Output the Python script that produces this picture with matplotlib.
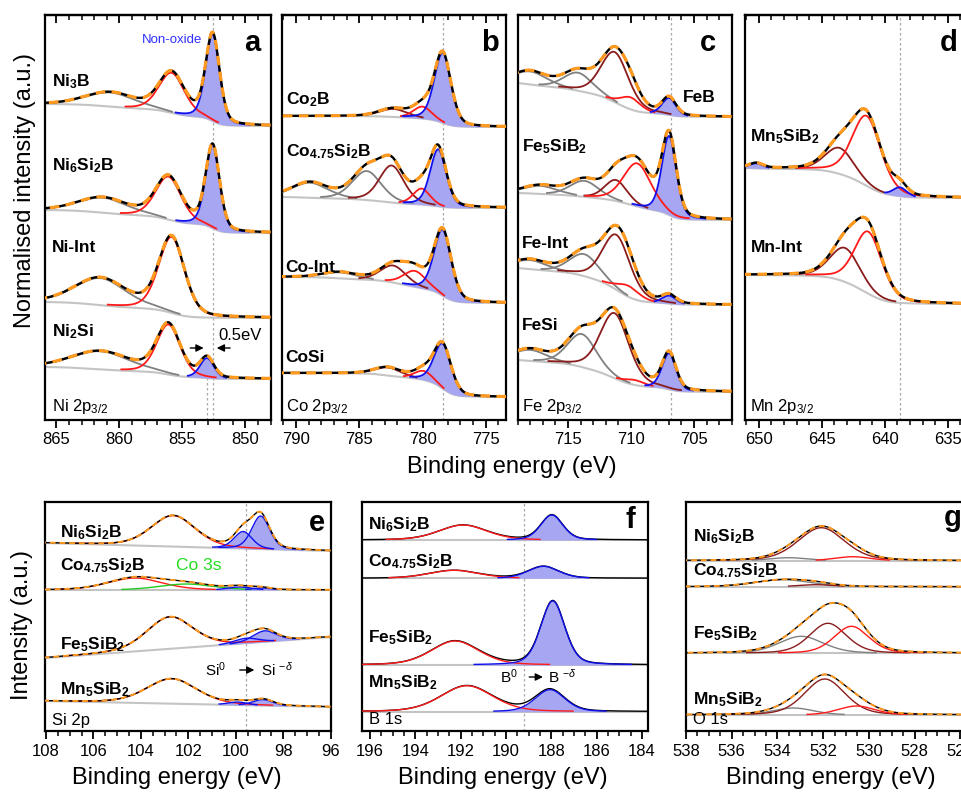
import numpy as np
import matplotlib
matplotlib.use("Agg")
import matplotlib.pyplot as plt
from matplotlib.ticker import MultipleLocator

plt.rcParams['font.family'] = ['Liberation Sans', 'DejaVu Sans']
plt.rcParams['mathtext.fontset'] = 'custom'
plt.rcParams['mathtext.rm'] = 'Liberation Sans'
plt.rcParams['mathtext.it'] = 'Liberation Sans:italic'
plt.rcParams['mathtext.bf'] = 'Liberation Sans:bold'

# ---------------- DATA (intensities in arbitrary units, stacked) ----------------
# peak tuples: (binding energy eV, height, FWHM eV, component type)
# --- a: Ni 2p3/2
NI_LABELS = [r"Ni$_{\mathbf{3}}$B", r"Ni$_{\mathbf{6}}$Si$_{\mathbf{2}}$B", "Ni-Int", r"Ni$_{\mathbf{2}}$Si"]
NI_BG_LEFT = [316, 210, 118, 53]
NI_BG_RIGHT = [294, 187, 102, 41]
NI_PEAKS = [
    [(860.7, 14, 4.6, "sat"), (855.85, 40, 2.4, "red"), (852.6, 87, 1.3, "blue")],
    [(861.3, 15, 4.6, "sat"), (856.1, 43, 2.4, "red"), (852.6, 83, 1.3, "blue")],
    [(861.5, 27, 4.8, "sat"), (855.85, 76, 2.4, "red")],
    [(861.5, 18, 5.4, "sat"), (856.1, 50, 2.2, "red"), (853.05, 20, 1.3, "blue")],
]
# --- b: Co 2p3/2
CO_LABELS = [r"Co$_{\mathbf{2}}$B", r"Co$_{\mathbf{4.75}}$Si$_{\mathbf{2}}$B", "Co-Int", "CoSi"]
CO_BG_LEFT = [304, 223, 143, 47]
CO_BG_RIGHT = [293, 212, 117, 23]
CO_PEAKS = [
    [(782.3, 8, 2.6, "maroon"), (780.0, 12, 1.7, "red"), (778.4, 70, 1.55, "blue")],
    [(788.9, 15, 3.4, "sat"), (784.4, 29, 2.7, "sat"), (782.44, 37, 2.3, "maroon"),
     (780.07, 16, 1.6, "red"), (778.76, 57, 1.5, "blue")],
    [(786.5, 6, 3.2, "sat"), (782.3, 17, 2.4, "maroon"), (780.6, 16, 2.1, "red"), (778.4, 66, 1.6, "blue")],
    [(782.7, 8, 2.5, "maroon"), (779.9, 9, 1.7, "red"), (778.4, 45, 1.6, "blue")],
]
# --- c: Fe 2p3/2
FE_LABELS = ["FeB", r"Fe$_{\mathbf{5}}$SiB$_{\mathbf{2}}$", "Fe-Int", "FeSi"]
FE_BG_LEFT = [337, 227, 152, 60]
FE_BG_RIGHT = [303, 200, 115, 28]
FE_PEAKS = [
    [(718.0, 13, 3.2, "sat"), (714.2, 18, 2.7, "sat"), (711.28, 50, 2.6, "maroon"),
     (710.03, 12, 1.9, "red"), (706.97, 17, 1.3, "blue")],
    [(717.2, 8, 3.2, "sat"), (713.7, 16, 2.7, "sat"), (711.2, 21, 2.1, "maroon"),
     (709.5, 43, 2.6, "red"), (706.97, 79, 1.35, "blue")],
    [(718.0, 9, 3.2, "sat"), (713.7, 22, 2.8, "sat"), (711.15, 55, 2.6, "maroon"),
     (710.2, 11, 2.1, "red"), (706.97, 8, 1.3, "blue")],
    [(718.0, 11, 3.2, "sat"), (713.9, 33, 2.7, "sat"), (711.3, 65, 2.7, "maroon"),
     (709.7, 5, 1.9, "red"), (706.97, 36, 1.3, "blue")],
]
# --- d: Mn 2p3/2
MN_LABELS = [r"Mn$_{\mathbf{5}}$SiB$_{\mathbf{2}}$", "Mn-Int"]
MN_BG_LEFT = [252, 145]
MN_BG_RIGHT = [222, 116]
MN_PEAKS = [
    [(650.2, 5, 1.3, "blue"), (643.6, 26, 2.7, "maroon"), (641.44, 70, 2.7, "red"), (638.8, 9, 1.3, "blue")],
    [(643.16, 34, 2.8, "maroon"), (641.3, 62, 2.6, "red")],
]
# --- e: Si 2p
SI_LABELS = [r"Ni$_{\mathbf{6}}$Si$_{\mathbf{2}}$B", r"Co$_{\mathbf{4.75}}$Si$_{\mathbf{2}}$B",
             r"Fe$_{\mathbf{5}}$SiB$_{\mathbf{2}}$", r"Mn$_{\mathbf{5}}$SiB$_{\mathbf{2}}$"]
SI_BG_LEFT = [188, 141, 73, 30]
SI_BG_RIGHT = [180, 141, 94, 24]
SI_PEAKS = [
    [(102.64, 31, 2.2, "red"), (99.69, 17, 0.9, "blue"), (98.95, 33, 0.9, "blue")],
    [(104.25, 12, 2.7, "red"), (102.08, 6, 2.7, "green"), (99.83, 3, 1.2, "blue"), (98.9, 2, 1.0, "blue")],
    [(102.78, 32, 2.3, "red"), (99.55, 5, 1.2, "blue"), (98.78, 11, 1.2, "blue")],
    [(102.7, 25, 2.5, "red"), (99.9, 3, 1.0, "blue"), (98.85, 6, 1.0, "blue")],
]
# --- f: B 1s
B_LABELS = SI_LABELS
B_BG_LEFT = [191, 152.7, 66, 19.3]
B_BG_RIGHT = [191, 152.7, 66, 19.3]
B_PEAKS = [
    [(191.9, 15, 2.5, "red"), (187.98, 25, 1.15, "blue")],
    [(192.3, 8, 2.6, "red"), (188.35, 12, 1.6, "blue")],
    [(192.25, 24, 2.5, "red"), (187.94, 64, 1.25, "blue")],
    [(191.73, 26, 2.7, "red"), (188.06, 22, 1.55, "blue")],
]
# --- g: O 1s
O_LABELS = SI_LABELS
O_BG_LEFT = [170.3, 144.3, 77.7, 16]
O_BG_RIGHT = [170.3, 144.3, 77.7, 16]
O_PEAKS = [
    [(533.5, 3, 2.0, "sat"), (532.08, 33, 2.4, "maroon"), (530.7, 4, 1.8, "red")],
    [(533.76, 7, 2.9, "sat"), (532.3, 2, 1.8, "maroon")],
    [(532.96, 17, 2.3, "sat"), (531.79, 30, 1.9, "maroon"), (530.76, 27, 1.8, "red")],
    [(533.3, 7, 2.1, "sat"), (531.93, 36, 2.1, "maroon"), (530.54, 9, 1.9, "red")],
]
CORE_LEVELS = [r"Ni 2p$_{3/2}$", r"Co 2p$_{3/2}$", r"Fe 2p$_{3/2}$", r"Mn 2p$_{3/2}$", "Si 2p", "B 1s", "O 1s"]
REF_LINES = {"a": 852.55, "b": 778.4, "c": 706.86, "d": 638.8, "e": 99.58, "f": 189.2}

# ---------------- STYLE ----------------
COLORS = {"sat": "#808080", "red": "#ff1a1a", "maroon": "#8b1c1c", "blue": "#1010ee", "green": "#22cc22"}
FILL = "#a6a6f2"
ORANGE = "#ff9a1f"
BGCOL = "#c4c4c4"
ETA = 0.3  # Lorentzian fraction of the pseudo-Voigt line shape

W, H = 962, 792
fig = plt.figure(figsize=(W / 100, H / 100), dpi=100)


def axes_px(left, top, right, bottom):
    return fig.add_axes([left / W, 1 - bottom / H, (right - left) / W, (bottom - top) / H])


def pvoigt(x, c, h, w):
    s = w / 2.3548
    g = np.exp(-0.5 * ((x - c) / s) ** 2)
    lz = 1.0 / (1.0 + ((x - c) / (w / 2)) ** 2)
    return h * ((1 - ETA) * g + ETA * lz)


def draw_panel(ax, xlim, bg_left, bg_right, peaks, shirley, top_row, fit=True, comps_on_top=False):
    x = np.linspace(min(xlim), max(xlim), 900)
    lw_data = 1.7 if top_row else 1.0
    lw_fit = 2.3 if top_row else 1.4
    lw_c = 1.3 if top_row else 1.0
    thr = 1.2 if top_row else 0.6
    zc = 4.5 if comps_on_top else 3
    for bl, br, pk in zip(bg_left, bg_right, peaks):
        comps = [pvoigt(x, c, h, w) for (c, h, w, k) in pk]
        total = np.sum(comps, axis=0)
        if shirley:
            cum = np.cumsum(total)
            frac = cum / cum[-1]
        else:
            frac = (x - x[0]) / (x[-1] - x[0])
        bg = br + (bl - br) * frac
        ax.plot(x, bg, color=BGCOL, lw=1.5, zorder=2)
        for comp, (c, h, w, k) in zip(comps, pk):
            show = comp > thr
            yv = np.where(show, bg + comp, np.nan)
            if k == "blue":
                ax.fill_between(x, bg, bg + comp, where=show, color=FILL, lw=0, zorder=2.5)
            ax.plot(x, yv, color=COLORS[k], lw=lw_c, zorder=zc)
        ax.plot(x, bg + total, color="black", lw=lw_data, zorder=4)
        if fit:
            ax.plot(x, bg + total, color=ORANGE, lw=lw_fit, ls=(0, (3, 2)), zorder=5)


def style(ax, xlim, ylim, major, minor, top_ticks, letter, lx, ly):
    ax.set_xlim(*xlim)
    ax.set_ylim(*ylim)
    ax.set_yticks([])
    ax.xaxis.set_major_locator(MultipleLocator(major))
    ax.xaxis.set_minor_locator(MultipleLocator(minor))
    ax.tick_params(axis="x", which="major", direction="out", length=6, width=1.3,
                   labelsize=12, pad=3)
    ax.tick_params(axis="x", which="minor", direction="out", length=3.5, width=1.1)
    for sp in ax.spines.values():
        sp.set_linewidth(1.6)
    if top_ticks:
        sec = ax.secondary_xaxis("top")
        sec.xaxis.set_major_locator(MultipleLocator(major))
        sec.xaxis.set_minor_locator(MultipleLocator(minor))
        sec.tick_params(axis="x", which="major", direction="in", length=6, width=1.3, labeltop=False)
        sec.tick_params(axis="x", which="minor", direction="in", length=3.5, width=1.1)
        sec.spines["top"].set_linewidth(1.6)
    ax.text(lx, ly, letter, transform=ax.transAxes, fontsize=21, fontweight="bold",
            ha="center", va="center")


def sample_labels(ax, labels, ys, xfrac):
    for lab, y in zip(labels, ys):
        ax.text(xfrac, y, lab, transform=ax.get_yaxis_transform(), fontsize=12.5,
                fontweight="bold", ha="left", va="center", zorder=6)


# ---------------- AXES ----------------
axa = axes_px(45, 15, 270.7, 420)
axb = axes_px(281.7, 15, 506, 420)
axc = axes_px(517.7, 15, 731.7, 420)
axd = axes_px(745, 15, 963, 420)
axe = axes_px(45, 501.7, 330.7, 731)
axf = axes_px(362.3, 501.7, 648, 731)
axg = axes_px(686, 501.7, 963, 731)

draw_panel(axa, (865.9, 848.0), NI_BG_LEFT, NI_BG_RIGHT, NI_PEAKS, True, True)
draw_panel(axb, (791.13, 773.4), CO_BG_LEFT, CO_BG_RIGHT, CO_PEAKS, True, True)
draw_panel(axc, (719.0, 702.0), FE_BG_LEFT, FE_BG_RIGHT, FE_PEAKS, True, True)
draw_panel(axd, (651.1, 633.8), MN_BG_LEFT, MN_BG_RIGHT, MN_PEAKS, True, True)
draw_panel(axe, (108.04, 96.0), SI_BG_LEFT, SI_BG_RIGHT, SI_PEAKS, False, False)
draw_panel(axf, (196.34, 183.74), B_BG_LEFT, B_BG_RIGHT, B_PEAKS, False, False,
           fit=False, comps_on_top=True)
draw_panel(axg, (538.0, 525.88), O_BG_LEFT, O_BG_RIGHT, O_PEAKS, False, False)

style(axa, (865.9, 848.0), (0, 405), 5, 1, True, "a", 0.917, 0.931)
style(axb, (791.13, 773.4), (0, 405), 5, 1, True, "b", 0.929, 0.931)
style(axc, (719.0, 702.0), (0, 405), 5, 1, True, "c", 0.889, 0.931)
style(axd, (651.1, 633.8), (0, 405), 5, 1, True, "d", 0.935, 0.931)
style(axe, (108.04, 96.0), (0, 229.3), 2, 0.5, False, "e", 0.952, 0.907)
style(axf, (196.34, 183.74), (0, 229.3), 2, 0.5, False, "f", 0.937, 0.92)
style(axg, (538.0, 525.88), (0, 229.3), 2, 0.5, False, "g", 0.963, 0.929)

refc = "#a8a8a8"
for ax, key in [(axa, "a"), (axb, "b"), (axc, "c"), (axd, "d"), (axe, "e"), (axf, "f")]:
    ax.axvline(REF_LINES[key], color=refc, lw=0.9, ls=(0, (2, 2)), zorder=1)
axa.axvline(853.05, ymax=65 / 405, color=refc, lw=0.9, ls=(0, (2, 2)), zorder=1)

sample_labels(axa, NI_LABELS, [338, 254, 172, 88], 0.031)
sample_labels(axb, CO_LABELS, [320, 268, 153, 62], 0.018)
sample_labels(axc, FE_LABELS[1:], [273, 177, 95], 0.02)
sample_labels(axc, FE_LABELS[:1], [322], 0.772)
sample_labels(axd, MN_LABELS, [283, 172], 0.025)
sample_labels(axe, SI_LABELS, [198, 165, 86, 41], 0.0525)
sample_labels(axf, B_LABELS, [206, 169.3, 93, 48], 0.02)
sample_labels(axg, O_LABELS, [194.3, 160, 97.7, 31.7], 0.026)

for ax, txt, xf in zip([axa, axb, axc, axd, axe, axf, axg], CORE_LEVELS,
                       [0.031, 0.018, 0.02, 0.025, 0.023, 0.024, 0.025]):
    ax.text(xf, 13 if ax in (axa, axb, axc, axd) else 11, txt, transform=ax.get_yaxis_transform(),
            fontsize=12, ha="left", va="center")

# ---------------- ANNOTATIONS ----------------
axa.text(858.2, 380, "Non-oxide", color="#3030ff", fontsize=9.5, ha="left", va="center")
axa.text(852.17, 85, "0.5eV", fontsize=12, ha="left", va="center")
arrow = dict(arrowstyle="-|>", color="black", lw=1.0, mutation_scale=11)
axa.annotate("", xy=(853.1, 72), xytext=(854.6, 72), arrowprops=arrow)
axa.annotate("", xy=(852.5, 72), xytext=(851.0, 72), arrowprops=arrow)

axe.text(102.5, 165, "Co 3s", color="#22dd22", fontsize=12.5, ha="left", va="center")
axe.text(101.3, 61, r"Si$^{0}$", fontsize=11, ha="left", va="center")
axe.annotate("", xy=(99.1, 61), xytext=(99.95, 61), arrowprops=arrow)
axe.text(98.95, 61, r"Si $^{-\delta}$", fontsize=11, ha="left", va="center")

axf.text(190.25, 54, r"B$^{0}$", fontsize=11, ha="left", va="center")
axf.annotate("", xy=(188.25, 54), xytext=(189.1, 54), arrowprops=arrow)
axf.text(188.15, 54, r"B $^{-\delta}$", fontsize=11, ha="left", va="center")

# axis titles
fig.text(511.5 / W, 1 - 467 / H, "Binding energy (eV)", fontsize=17, ha="center", va="center")
fig.text(176.7 / W, 1 - 778 / H, "Binding energy (eV)", fontsize=17, ha="center", va="center")
fig.text(502.7 / W, 1 - 778 / H, "Binding energy (eV)", fontsize=17, ha="center", va="center")
fig.text(830.8 / W, 1 - 778 / H, "Binding energy (eV)", fontsize=17, ha="center", va="center")
fig.text(25 / W, 1 - 191 / H, "Normalised intensity (a.u.)", fontsize=17, rotation=90,
         ha="center", va="center")
fig.text(22 / W, 1 - 625 / H, "Intensity (a.u.)", fontsize=17, rotation=90, ha="center", va="center")

fig.savefig("out.png", dpi=100)
